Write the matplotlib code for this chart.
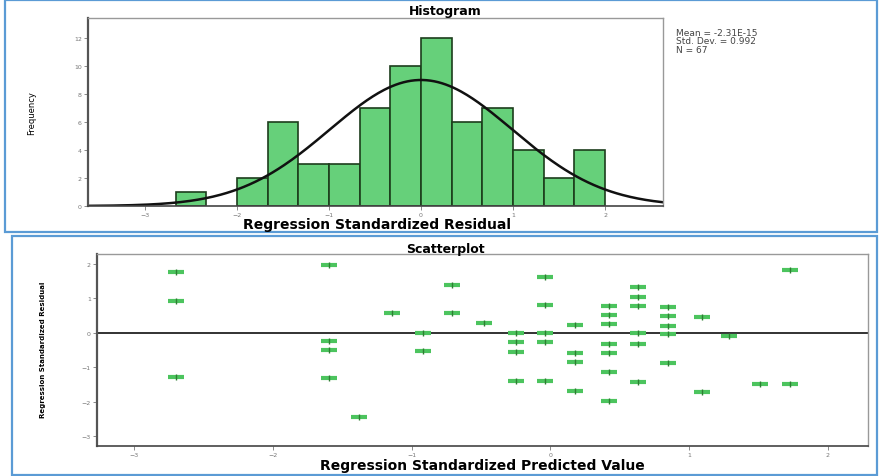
import numpy as np
import matplotlib
matplotlib.use("Agg")
import matplotlib.pyplot as plt
from matplotlib.patches import Rectangle

# Histogram data: left edges of the 1/3-wide bins and their counts
bin_left = [-8 / 3, -2, -5 / 3, -4 / 3, -1, -2 / 3, -1 / 3, 0, 1 / 3, 2 / 3, 1, 4 / 3, 5 / 3]
counts = [1, 2, 6, 3, 3, 7, 10, 12, 6, 7, 4, 2, 4]
bin_width = 1 / 3
mean, sd, n = -2.31e-15, 0.992, 67
hist_xticks = [-3, -2, -1, 0, 1, 2]
hist_yticks = [0, 2, 4, 6, 8, 10, 12]

# Scatterplot data: standardized predicted value vs standardized residual
pred = [-2.70, -2.70, -2.70, -1.60, -1.60, -1.60, -1.60, -1.14, -1.38, -0.92, -0.92,
        -0.71, -0.71, -0.48, -0.25, -0.25, -0.25, -0.25, -0.04, -0.04, -0.04, -0.04, -0.04,
        0.18, 0.18, 0.18, 0.18, 0.42, 0.42, 0.42, 0.42, 0.42, 0.42, 0.42,
        0.63, 0.63, 0.63, 0.63, 0.63, 0.63, 0.85, 0.85, 0.85, 0.85, 0.85,
        1.09, 1.09, 1.29, 1.51, 1.73, 1.73]
resid = [1.77, 0.93, -1.27, 1.97, -0.23, -0.49, -1.30, 0.58, -2.43, 0.0, -0.52,
         1.39, 0.57, 0.29, 0.0, -0.26, -0.55, -1.39, 1.62, 0.81, 0.0, -0.26, -1.39,
         0.23, -0.58, -0.84, -1.68, 0.78, 0.52, 0.26, -0.32, -0.58, -1.13, -1.97,
         1.33, 1.04, 0.78, 0.0, -0.32, -1.42, 0.75, 0.49, 0.20, -0.03, -0.87,
         0.46, -1.71, -0.09, -1.48, 1.83, -1.48]
sc_xticks = [-3, -2, -1, 0, 1, 2]
sc_yticks = [-3, -2, -1, 0, 1, 2]

fig = plt.figure(figsize=(8.8, 4.77), dpi=100)
W, H = 880, 477


def box(x0, y0, x1, y1):
    """Blue panel border given in pixel coords from the top-left."""
    fig.patches.append(Rectangle((x0 / W, 1 - y1 / H), (x1 - x0) / W, (y1 - y0) / H,
                                 transform=fig.transFigure, fill=False,
                                 edgecolor="#5b9bd5", linewidth=1.6))


def axes_px(x0, y0, x1, y1):
    return fig.add_axes([x0 / W, 1 - y1 / H, (x1 - x0) / W, (y1 - y0) / H])


def label(xp, yp, s, **kw):
    fig.text(xp / W, 1 - yp / H, s, ha="center", va="center", **kw)


def frame(ax):
    for side in ["top", "right"]:
        ax.spines[side].set_color("#999999")
        ax.spines[side].set_linewidth(1.0)
    ax.spines["left"].set_color("#555555")
    ax.spines["left"].set_linewidth(1.6)
    ax.spines["bottom"].set_color("#444444")
    ax.spines["bottom"].set_linewidth(1.2)
    ax.tick_params(labelsize=4.5, colors="#777777", length=3, width=0.6, pad=1.5)


box(5, 1, 877, 233)
box(12, 237, 877, 476)

# %% Histogram
ax = axes_px(88, 19, 663, 207)
ax.bar(bin_left, counts, width=bin_width, align="edge", color="#66d07a",
       edgecolor="#1c3d1c", linewidth=1.2)
x = np.linspace(-3.62, 2.63, 300)
ax.plot(x, n * bin_width * np.exp(-0.5 * ((x - mean) / sd) ** 2) / (sd * np.sqrt(2 * np.pi)),
        color="#111111", linewidth=1.8)
ax.set_xlim(-3.62, 2.63)
ax.set_ylim(0, 13.4)
ax.set_xticks(hist_xticks)
ax.set_yticks(hist_yticks)
frame(ax)
label(377, 225, "Regression Standardized Residual", fontsize=10, fontweight="bold")
label(32, 113, "Frequency", fontsize=6, rotation=90)
label(445, 12, "Histogram", fontsize=9, fontweight="bold")
fig.text(676 / W, 1 - 29 / H, "Mean = -2.31E-15\nStd. Dev. = 0.992\nN = 67",
         ha="left", va="top", fontsize=6.5, color="#444444", linespacing=0.9)

# %% Scatterplot
ax2 = axes_px(97, 255, 868, 447)
ax2.axhline(0, color="#222222", linewidth=1.3, zorder=1)
ax2.plot(pred, resid, linestyle="none", marker="_", markersize=11, markeredgewidth=3,
         color="#4cc45e", zorder=2)
ax2.plot(pred, resid, linestyle="none", marker="|", markersize=5, markeredgewidth=1,
         color="#2e7d32", zorder=3)
ax2.set_xlim(-3.27, 2.29)
ax2.set_ylim(-3.28, 2.29)
ax2.set_xticks(sc_xticks)
ax2.set_yticks(sc_yticks)
frame(ax2)
label(482, 466, "Regression Standardized Predicted Value", fontsize=10, fontweight="bold")
label(43, 350, "Regression Standardized Residual", fontsize=5, fontweight="bold",
      rotation=90)
label(445, 250, "Scatterplot", fontsize=9, fontweight="bold")

fig.savefig("out.png", dpi=100)
